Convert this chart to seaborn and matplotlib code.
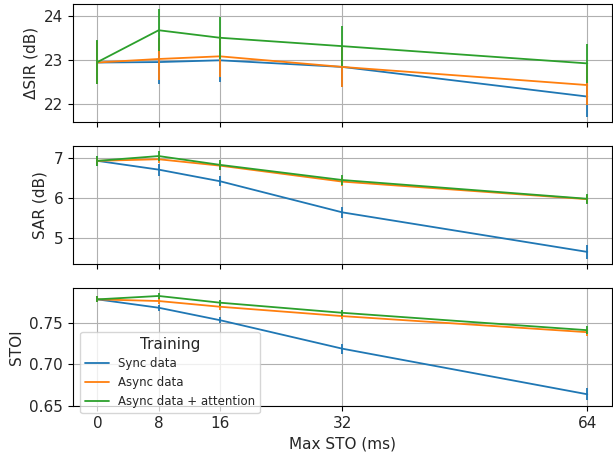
import matplotlib
matplotlib.use("Agg")
import matplotlib.pyplot as plt
import seaborn as sns
import pandas as pd

sto = [0, 8, 16, 32, 64]
training = ["Sync data", "Async data", "Async data + attention"]

sir_sync = [22.94, 22.95, 22.99, 22.84, 22.17]
sir_async = [22.94, 23.02, 23.08, 22.84, 22.43]
sir_att = [22.95, 23.67, 23.50, 23.31, 22.92]
sir_err_sync = [0.48, 0.49, 0.48, 0.46, 0.46]
sir_err_async = [0.48, 0.47, 0.46, 0.46, 0.45]
sir_err_att = [0.50, 0.47, 0.48, 0.46, 0.44]

sar_sync = [6.93, 6.71, 6.42, 5.64, 4.65]
sar_async = [6.93, 6.97, 6.81, 6.41, 5.97]
sar_att = [6.93, 7.05, 6.83, 6.45, 5.98]
sar_err_sync = [0.12, 0.15, 0.13, 0.13, 0.17]
sar_err_async = [0.10, 0.10, 0.10, 0.10, 0.10]
sar_err_att = [0.12, 0.12, 0.12, 0.12, 0.12]

stoi_sync = [0.7783, 0.7682, 0.7532, 0.7188, 0.6638]
stoi_async = [0.7783, 0.7763, 0.7694, 0.7581, 0.7387]
stoi_att = [0.7783, 0.7824, 0.7743, 0.7621, 0.7411]
stoi_err_sync = [0.0035, 0.0035, 0.0035, 0.006, 0.0075]
stoi_err_async = [0.0035, 0.0035, 0.0035, 0.0035, 0.004]
stoi_err_att = [0.0035, 0.0035, 0.0035, 0.0035, 0.005]

ylabels = ["ΔSIR (dB)", "SAR (dB)", "STOI"]
xlabel = "Max STO (ms)"

metrics = [
    ([sir_sync, sir_async, sir_att], [sir_err_sync, sir_err_async, sir_err_att]),
    ([sar_sync, sar_async, sar_att], [sar_err_sync, sar_err_async, sar_err_att]),
    ([stoi_sync, stoi_async, stoi_att], [stoi_err_sync, stoi_err_async, stoi_err_att]),
]

sns.set_style("ticks", {"axes.grid": True, "grid.color": "#b0b0b0",
                        "axes.edgecolor": "black"})
plt.rcParams["font.family"] = ["DejaVu Sans"]
plt.rcParams["font.size"] = 11

colors = ["#1f77b4", "#ff7f0e", "#2ca02c"]

fig, axes = plt.subplots(3, 1, figsize=(6.13, 4.55), dpi=100, sharex=True)
fig.subplots_adjust(left=0.119, right=0.998, top=0.991, bottom=0.108, hspace=0.20)

for ax, ylab, (vals, errs) in zip(axes, ylabels, metrics):
    rows = []
    for name, v in zip(training, vals):
        for x, y in zip(sto, v):
            rows.append({"sto": x, "value": y, "Training": name})
    df = pd.DataFrame(rows)
    sns.lineplot(data=df, x="sto", y="value", hue="Training", hue_order=training,
                 palette=colors, ax=ax, legend=(ax is axes[-1]), linewidth=1.3)
    for name, v, e, c in zip(training, vals, errs, colors):
        ax.errorbar(sto, v, yerr=e, fmt="none", ecolor=c, elinewidth=1.3, capsize=0)
    ax.set_ylabel(ylab, fontsize=11)
    ax.set_xlabel("")
    ax.grid(True, color="#b0b0b0", linewidth=0.8)
    for s in ax.spines.values():
        s.set_color("black")
        s.set_linewidth(0.8)
    ax.tick_params(axis="both", direction="out", length=3.5, width=0.8, color="black",
                   labelsize=11)

axes[0].set_yticks([22, 23, 24])
axes[1].set_yticks([5, 6, 7])
axes[2].set_yticks([0.65, 0.70, 0.75])
axes[2].set_xticks(sto)
axes[2].set_xticklabels([str(s) for s in sto])
axes[2].set_xlabel(xlabel, fontsize=11)

handles, labels = axes[2].get_legend_handles_labels()
axes[2].legend(handles[:3], labels[:3], title="Training", loc="lower left",
               bbox_to_anchor=(0.0135, -0.06), borderaxespad=0, fontsize=8.5,
               title_fontsize=11, frameon=True, framealpha=0.8, edgecolor="#cccccc")

fig.savefig("out.png", dpi=100)
